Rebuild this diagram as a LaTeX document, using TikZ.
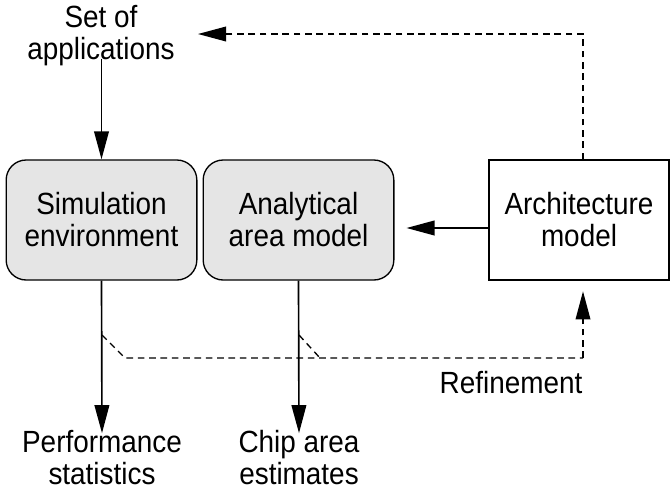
\documentclass[tikz,border=0pt]{standalone}
\usepackage{fontspec}
\setmainfont[FakeStretch=0.91]{Liberation Sans}
\usetikzlibrary{arrows.meta}
\begin{document}
\begin{tikzpicture}[x=0.75pt,y=-0.75pt,
  lbl/.style={font=\fontsize{23pt}{24pt}\selectfont, align=center, inner sep=0pt},
  gbox/.style={lbl, draw, line width=1pt, fill=black!10, rounded corners=15pt,
    minimum width=143pt, minimum height=90pt},
  wbox/.style={lbl, draw, line width=1pt, fill=white,
    minimum width=135pt, minimum height=90pt},
  tip/.style={-{Triangle[length=21pt,width=11pt]}},
  arr/.style={line width=1.25pt, tip},
  dsh/.style={line width=1pt, dash pattern=on 5pt off 3.5pt}]
\useasboundingbox (0,0) rectangle (671,493);

% boxes
\node[gbox] (sim) at (101.5,220) {Simulation\\environment};
\node[gbox] (area) at (298.5,220) {Analytical\\area model};
\node[wbox] (arch) at (579,220) {Architecture\\model};

% free labels
\node[lbl] (apps) at (101,36) {Set of\\applications};
\node[lbl] (perf) at (102,458) {Performance\\statistics};
\node[lbl] (chip) at (299,458) {Chip area\\estimates};
\node[lbl, anchor=base] (refl) at (511,393) {Refinement};

% helper points
\coordinate (topl) at (198,34);
\coordinate (topr) at (583,34);
\coordinate (j1) at (102,335);
\coordinate (j2) at (299,335);
\coordinate (k1) at (125,358);
\coordinate (k2) at (320,358);
\coordinate (kr) at (583,358);

% solid flow
\draw[arr] (apps.south -| sim.north) ++(0,-8) -- (sim.north);
\draw[arr] ([yshift=-6]arch.west) -- ([xshift=9,yshift=-6]area.east);
\draw[arr] (sim.south) -- ([yshift=-2]perf.north);
\draw[arr] (area.south) -- ([yshift=-2]chip.north);

% feedback (dashed)
\draw[dsh, tip] (arch.north -| topr) -- (topr) -- (topl);
\draw[dsh] (j1) -- (k1) -- (kr);
\draw[dsh, tip] (kr) -- ([yshift=-8]arch.south -| kr);
\draw[dsh] (j2) -- (k2);
\end{tikzpicture}
\end{document}
